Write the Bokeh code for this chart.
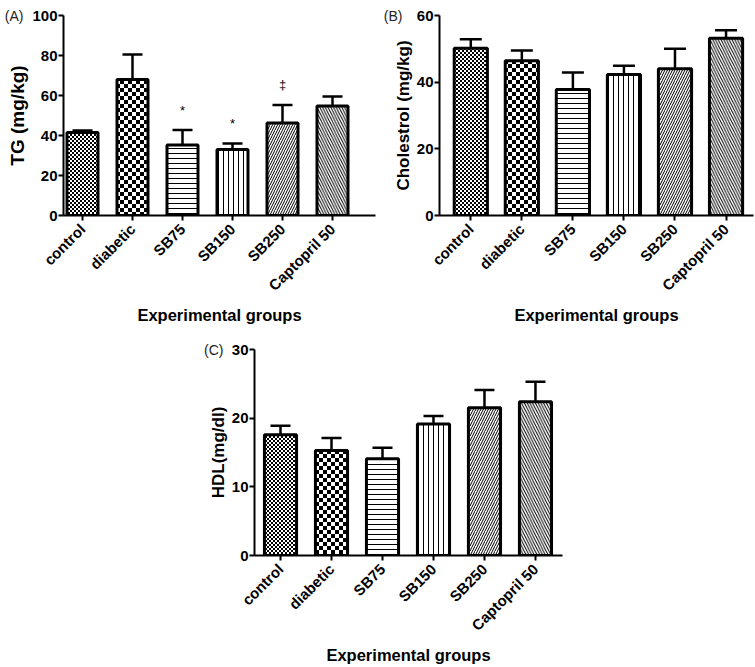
import math
from bokeh.plotting import figure
from bokeh.models import (ColumnDataSource, Range1d, FixedTicker, CanvasTexture,
                          LinearAxis, Spacer, Whisker, TeeHead, CDSView, IndexFilter)
from bokeh.layouts import column, row
from bokeh.embed import file_html
from bokeh.resources import INLINE
from bokeh.core.properties import value

# ---------------- data ----------------
groups = ["control", "diabetic", "SB75", "SB150", "SB250", "Captopril 50"]

tg_mean = [41.5, 68.0, 35.3, 33.0, 46.3, 54.7]
tg_err = [1.0, 12.5, 7.4, 3.0, 9.0, 4.8]
tg_sig = ["", "", "*", "*", "\u2021", ""]

chol_mean = [50.2, 46.4, 37.8, 42.3, 44.0, 53.2]
chol_err = [2.7, 3.1, 5.1, 2.6, 6.0, 2.4]

hdl_mean = [17.6, 15.3, 14.1, 19.15, 21.5, 22.4]
hdl_err = [1.3, 1.8, 1.6, 1.15, 2.6, 2.9]

tg_ticks = [0, 20, 40, 60, 80, 100]
chol_ticks = [0, 20, 40, 60]
hdl_ticks = [0, 10, 20, 30]

# ---------------- styling ----------------
patterns = ["fine", "chk", "-", "|", "/", "\\"]
pattern_scales = [4, 8, 5, 5, 5, 5.5]
FONT = "Liberation Sans"


def checker_code(tile):
    c = tile // 2
    return (f"ctx.canvas.width = {tile}; ctx.canvas.height = {tile};"
            f"ctx.fillStyle = '#ffffff'; ctx.fillRect(0, 0, {tile}, {tile});"
            f"ctx.fillStyle = '#000000'; ctx.fillRect(0, 0, {c}, {c}); ctx.fillRect({c}, {c}, {c}, {c});")


def make_textures():
    return {"fine": CanvasTexture(code=checker_code(4)),
            "chk": CanvasTexture(code=checker_code(8))}


def make_panel(means, errs, yend, yticks, ytitle, letter, letter_standoff, sig=None,
               width=375, height=318, borders=(7, 8, 111, 53), xr=(-0.5, 5.5),
               bar_w=0.62, cap=20, ytitle_size="17px"):
    top_b, right_b, bottom_b, left_b = borders
    p = figure(width=width, height=height, x_range=Range1d(*xr), y_range=Range1d(0, yend),
               output_backend="svg", toolbar_location=None,
               min_border_top=top_b, min_border_right=right_b,
               min_border_bottom=bottom_b, min_border_left=left_b)
    p.outline_line_color = None
    p.grid.visible = False
    p.background_fill_color = "white"
    p.border_fill_color = "white"

    xs = list(range(len(groups)))
    src = ColumnDataSource(dict(
        x=xs, top=means, up=[m + e for m, e in zip(means, errs)]))

    p.add_layout(Whisker(base="x", lower="top", upper="up", source=src,
                         line_width=2.5, line_color="black", lower_head=None,
                         upper_head=TeeHead(size=cap, line_width=2.5, line_color="black"),
                         level="underlay"))

    tex = make_textures()
    for i in xs:
        p.vbar(x="x", top="top", bottom=0, width=bar_w, source=src,
               view=CDSView(filter=IndexFilter([i])),
               fill_color="white", line_color="black", line_width=3,
               hatch_pattern=value(patterns[i]), hatch_scale=pattern_scales[i],
               hatch_weight=1, hatch_color="black", hatch_extra=tex)

    if sig is not None:
        ssrc = ColumnDataSource(dict(x=xs, y=[m + e + 10 for m, e in zip(means, errs)], t=sig))
        p.text(x="x", y="y", text="t", source=ssrc, text_align="center",
               text_baseline="middle", text_font=value(FONT), text_font_size="13px",
               text_color="black")

    xa = p.xaxis[0]
    ya = p.yaxis[0]
    xa.ticker = FixedTicker(ticks=xs)
    xa.major_label_overrides = {i: g for i, g in enumerate(groups)}
    xa.major_label_orientation = math.pi / 4
    ya.ticker = FixedTicker(ticks=yticks)
    for ax in (xa, ya):
        ax.axis_line_width = 2
        ax.axis_line_color = "black"
        ax.major_tick_line_width = 2
        ax.major_tick_line_color = "black"
        ax.major_tick_out = 5
        ax.major_tick_in = 0
        ax.minor_tick_out = 0
        ax.minor_tick_in = 0
        ax.major_label_text_font = FONT
        ax.major_label_text_font_style = "bold"
        ax.major_label_text_color = "black"
        ax.axis_label_text_font = FONT
        ax.axis_label_text_font_style = "bold"
        ax.axis_label_text_color = "black"
    xa.major_label_text_font_size = "15px"
    ya.major_label_text_font_size = "15px"
    xa.major_label_standoff = 6
    ya.major_label_standoff = 1
    xa.axis_label = "Experimental groups"
    xa.axis_label_text_font_size = "16.5px"
    xa.axis_label_standoff = 3
    ya.axis_label = ytitle
    ya.axis_label_text_font_size = ytitle_size
    ya.axis_label_standoff = 1

    # panel letter, carried by an outer, line-less axis at the top tick
    lab_ax = LinearAxis(ticker=FixedTicker(ticks=[yend]),
                        major_label_overrides={yend: letter},
                        axis_line_color=None, major_tick_line_color=None,
                        minor_tick_line_color=None, major_tick_out=0, major_tick_in=0,
                        minor_tick_out=0, minor_tick_in=0,
                        major_label_standoff=letter_standoff,
                        major_label_text_font=FONT, major_label_text_font_size="14px",
                        major_label_text_font_style="normal",
                        major_label_text_color="#222222")
    p.add_layout(lab_ax, "left")
    return p


pA = make_panel(tg_mean, tg_err, 100, tg_ticks, "TG (mg/kg)", "(A)", -19, sig=tg_sig,
                width=380, height=326, borders=(15, 5, 111, 63), xr=(-0.38, 5.86),
                bar_w=0.62, cap=20, ytitle_size="19px")
pB = make_panel(chol_mean, chol_err, 60, chol_ticks, "Cholestrol (mg/kg)", "(B)", -12, sig=None,
                width=374, height=326, borders=(9, 1, 111, 55), xr=(-0.613, 5.538),
                bar_w=0.65, cap=22, ytitle_size="17px")
pC = make_panel(hdl_mean, hdl_err, 30, hdl_ticks, "HDL(mg/dl)", "(C)", -18, sig=None,
                width=375, height=340, borders=(23, 8, 111, 59), xr=(-0.51, 5.53),
                bar_w=0.63, cap=20, ytitle_size="17px")

layout = column(row(pA, pB), row(Spacer(width=195, height=340), pC))

open("out.html", "w").write(file_html(layout, INLINE))
